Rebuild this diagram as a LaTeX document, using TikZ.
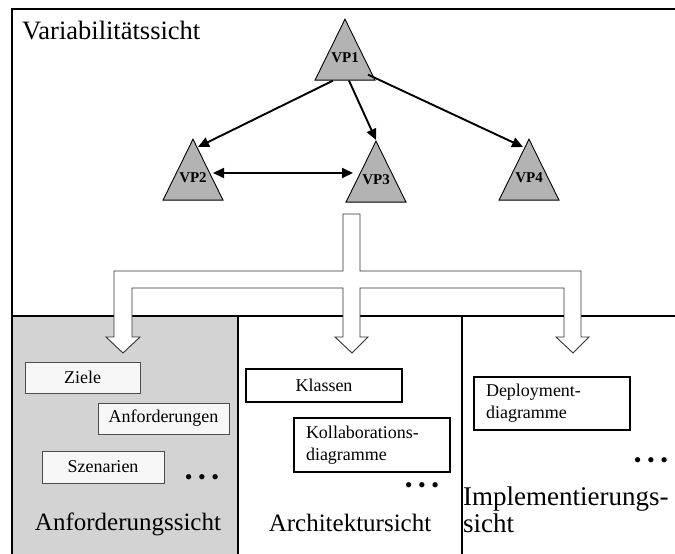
\documentclass[tikz,border=0pt]{standalone}
\usepackage{fontspec}
\setmainfont{Liberation Serif}
\usetikzlibrary{shapes.geometric, arrows.meta, calc}
\definecolor{panel_gray}{HTML}{D3D3D3}
\definecolor{vp_gray}{HTML}{B3B3B3}
\tikzset{
  vp_node/.style={isosceles triangle, shape border rotate=90, isosceles triangle stretches=true, minimum width=60pt, minimum height=61pt, inner sep=0pt, text height=10pt, text depth=15pt, draw=black, fill=vp_gray, line width=0.9pt, font=\fontsize{15}{17}\selectfont\bfseries},
  vp_arrow/.style={->, line width=1.9pt},
  frame_line/.style={line width=1.4pt},
  view_label/.style={font=\fontsize{25}{27}\selectfont, inner sep=0pt},
  req_box/.style={rectangle, draw=black!70, fill=black!3, line width=0.8pt, font=\fontsize{18}{22}\selectfont, inner sep=0pt},
  arch_box/.style={rectangle, draw=black, fill=white, line width=1.3pt, font=\fontsize{18}{22}\selectfont, inner sep=0pt},
  block_arrow/.style={draw=black!80, fill=white, line width=0.9pt, line join=miter},
  dots_style/.style={font=\fontsize{22}{24}\selectfont, inner sep=0pt}
}

\begin{document}
\begin{tikzpicture}[
    x=1pt, y=-1pt,
    >={Triangle[length=11pt,width=10pt]}
]
\useasboundingbox (0,0) rectangle (675,554);

% 1. Frame and the three view panels
\fill[panel_gray] (12,316) rectangle (238,554);
\draw[frame_line] (675,9) -- (12,9) -- (12,554);
\draw[frame_line] (12,316) -- (675,316);
\draw[frame_line] (238,316) -- (238,554);
\draw[frame_line] (462,316) -- (462,554);

% 2. Variation points
\node[vp_node, anchor=north] (vp1) at (345,18) {VP1};
\node[vp_node, anchor=north] (vp2) at (193,138) {VP2};
\node[vp_node, anchor=north] (vp3) at (376,140) {VP3};
\node[vp_node, anchor=north] (vp4) at (529,138) {VP4};

\draw[vp_arrow] ($(vp1.south)+(-12,0)$) -- ($(vp2.north)+(5,9)$);
\draw[vp_arrow] ($(vp1.south)+(4,0)$) -- (vp3.north);
\draw[vp_arrow] ($(vp1.south)+(23,-6)$) -- ($(vp4.north)+(-6,9)$);
\draw[vp_arrow, <->] ($(vp2.north)+(20,35)$) -- ($(vp3.north)+(-23,33)$);

% 3. Block arrow into the views
\draw[block_arrow] (343,214) -- (360,214) -- (360,271) -- (581,271) -- (581,337)
  -- (589,337) -- (573,353) -- (556,337) -- (564,337) -- (564,288) -- (360,288)
  -- (360,337) -- (368,337) -- (352,353) -- (335,337) -- (343,337) -- (343,288)
  -- (132,288) -- (132,337) -- (140,337) -- (123,353) -- (106,337) -- (114,337)
  -- (114,271) -- (343,271) -- cycle;

% 4. View labels
\node[view_label, font=\fontsize{26.5}{28}\selectfont, anchor=base west] (var_label) at (22,39) {Variabilitätssicht};
\node[view_label, anchor=base] (req_label) at (128,530) {Anforderungssicht};
\node[view_label, anchor=base] (arch_label) at (350,531) {Architektursicht};
\node[view_label, font=\fontsize{27}{27}\selectfont, anchor=north west, align=left] (impl_label) at (463,487) {Implementierungs-\\sicht};

% 5. Artefacts
\node[req_box, minimum width=115pt, minimum height=31pt] (ziele) at (82.5,377.5) {Ziele};
\node[req_box, minimum width=131pt, minimum height=31pt] (anford) at (163.5,418.5) {Anforderungen};
\node[req_box, minimum width=122pt, minimum height=32pt] (szen) at (103,467) {Szenarien};
\node[dots_style] (req_dots) at (202,480) {• • •};

\node[arch_box, minimum width=156pt, minimum height=33pt] (klassen) at (324,385.5) {Klassen};
\node[arch_box, minimum height=54pt, text width=132pt, inner xsep=12pt, align=left] (kollab) at (372,445) {Kollaborations-\\diagramme};
\node[dots_style] (arch_dots) at (422,488) {• • •};

\node[arch_box, minimum height=53pt, text width=132pt, inner xsep=12pt, align=left] (deploy) at (552,403.5) {Deployment-\\diagramme};
\node[dots_style] (impl_dots) at (651,463) {• • •};

\end{tikzpicture}
\end{document}
